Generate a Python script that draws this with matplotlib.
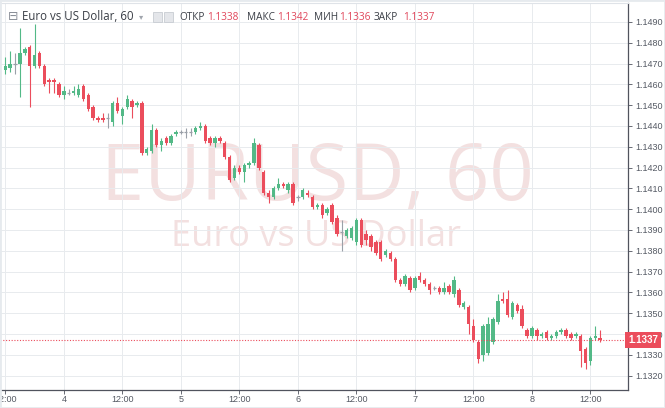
import numpy as np
import matplotlib
matplotlib.use("Agg")
import matplotlib.pyplot as plt
from matplotlib.patches import Rectangle

# hourly EURUSD candles, first one = day 3 12:00
opens = [1.1467, 1.1468, 1.1470, 1.1470, 1.1475, 1.1478, 1.1469, 1.1475, 1.1469, 1.1462,
         1.1462, 1.1460, 1.1455, 1.1456, 1.1456, 1.1455, 1.1459, 1.1455, 1.1449, 1.1444,
         1.1444, 1.1444, 1.1442, 1.1451, 1.1445, 1.1449, 1.1452, 1.1450, 1.1451, 1.1427,
         1.1428, 1.1438, 1.1431, 1.1434, 1.1432, 1.1436, 1.1437, 1.1437, 1.1437, 1.1437,
         1.1439, 1.1440, 1.1434, 1.1432, 1.1434, 1.1432, 1.1425, 1.1415, 1.1420, 1.1418,
         1.1421, 1.1422, 1.1431, 1.1418, 1.1408, 1.1406, 1.1410, 1.1412, 1.1409, 1.1412,
         1.1406, 1.1406, 1.1408, 1.1406, 1.1401, 1.1402, 1.1398, 1.1402, 1.1396, 1.1389,
         1.1387, 1.1386, 1.1384, 1.1395, 1.1388, 1.1387, 1.1384, 1.1384, 1.1378, 1.1379,
         1.1376, 1.1366, 1.1364, 1.1367, 1.1362, 1.1368, 1.1366, 1.1364, 1.1362, 1.1362,
         1.1360, 1.1363, 1.1359, 1.1361, 1.1353, 1.1353, 1.1344, 1.1336, 1.1330, 1.1331,
         1.1336, 1.1346, 1.1357, 1.1357, 1.1348, 1.1354, 1.1352, 1.1342, 1.1339, 1.1342,
         1.1339, 1.1341, 1.1338, 1.1339, 1.1341, 1.1342, 1.1340, 1.1339, 1.1339, 1.1333,
         1.1327, 1.1338, 1.1338]
highs = [1.1473, 1.1476, 1.1475, 1.1487, 1.1478, 1.1479, 1.1489, 1.1476, 1.1470, 1.1463,
         1.1463, 1.1461, 1.1459, 1.1458, 1.1459, 1.1460, 1.1460, 1.1456, 1.1450, 1.1445,
         1.1446, 1.1446, 1.1452, 1.1454, 1.1449, 1.1455, 1.1453, 1.1452, 1.1452, 1.1430,
         1.1441, 1.1439, 1.1434, 1.1435, 1.1436, 1.1438, 1.1438, 1.1439, 1.1439, 1.1440,
         1.1442, 1.1441, 1.1435, 1.1435, 1.1435, 1.1433, 1.1426, 1.1421, 1.1421, 1.1422,
         1.1423, 1.1434, 1.1432, 1.1419, 1.1409, 1.1411, 1.1415, 1.1413, 1.1413, 1.1413,
         1.1407, 1.1410, 1.1409, 1.1407, 1.1403, 1.1403, 1.1401, 1.1403, 1.1397, 1.1395,
         1.1391, 1.1392, 1.1396, 1.1396, 1.1390, 1.1388, 1.1385, 1.1385, 1.1381, 1.1380,
         1.1377, 1.1367, 1.1369, 1.1368, 1.1368, 1.1370, 1.1367, 1.1365, 1.1363, 1.1363,
         1.1365, 1.1364, 1.1368, 1.1362, 1.1356, 1.1354, 1.1347, 1.1337, 1.1345, 1.1348,
         1.1348, 1.1359, 1.1360, 1.1361, 1.1356, 1.1355, 1.1354, 1.1343, 1.1344, 1.1343,
         1.1341, 1.1342, 1.1340, 1.1342, 1.1343, 1.1343, 1.1341, 1.1341, 1.1340, 1.1334,
         1.1339, 1.1344, 1.1342]
lows = [1.1465, 1.1466, 1.1465, 1.1454, 1.1474, 1.1449, 1.1468, 1.1468, 1.1459, 1.1456,
        1.1456, 1.1454, 1.1453, 1.1455, 1.1455, 1.1454, 1.1452, 1.1447, 1.1443, 1.1442,
        1.1442, 1.1439, 1.1440, 1.1446, 1.1441, 1.1448, 1.1444, 1.1449, 1.1426, 1.1426,
        1.1427, 1.1430, 1.1428, 1.1431, 1.1431, 1.1435, 1.1436, 1.1434, 1.1435, 1.1436,
        1.1438, 1.1432, 1.1431, 1.1430, 1.1432, 1.1424, 1.1413, 1.1414, 1.1417, 1.1413,
        1.1420, 1.1421, 1.1419, 1.1407, 1.1403, 1.1405, 1.1409, 1.1410, 1.1408, 1.1402,
        1.1404, 1.1405, 1.1406, 1.1400, 1.1400, 1.1396, 1.1397, 1.1393, 1.1387, 1.1380,
        1.1386, 1.1385, 1.1383, 1.1382, 1.1383, 1.1380, 1.1378, 1.1375, 1.1377, 1.1375,
        1.1365, 1.1363, 1.1363, 1.1360, 1.1361, 1.1365, 1.1363, 1.1359, 1.1361, 1.1359,
        1.1359, 1.1359, 1.1358, 1.1353, 1.1352, 1.1340, 1.1336, 1.1326, 1.1327, 1.1330,
        1.1335, 1.1345, 1.1355, 1.1348, 1.1347, 1.1350, 1.1343, 1.1338, 1.1338, 1.1337,
        1.1338, 1.1337, 1.1337, 1.1338, 1.1340, 1.1338, 1.1337, 1.1338, 1.1324, 1.1323,
        1.1325, 1.1337, 1.1336]
closes = [1.1469, 1.1470, 1.1470, 1.1475, 1.1477, 1.1469, 1.1474, 1.1469, 1.1460, 1.1461,
          1.1461, 1.1455, 1.1457, 1.1456, 1.1457, 1.1458, 1.1453, 1.1448, 1.1444, 1.1443,
          1.1443, 1.1444, 1.1451, 1.1447, 1.1448, 1.1453, 1.1449, 1.1451, 1.1427, 1.1429,
          1.1438, 1.1431, 1.1433, 1.1432, 1.1435, 1.1437, 1.1437, 1.1437, 1.1437, 1.1439,
          1.1440, 1.1433, 1.1432, 1.1434, 1.1433, 1.1425, 1.1414, 1.1420, 1.1418, 1.1421,
          1.1422, 1.1432, 1.1420, 1.1408, 1.1406, 1.1410, 1.1412, 1.1411, 1.1412, 1.1403,
          1.1406, 1.1409, 1.1407, 1.1401, 1.1402, 1.1397, 1.1400, 1.1394, 1.1388, 1.1389,
          1.1390, 1.1391, 1.1395, 1.1383, 1.1385, 1.1382, 1.1379, 1.1376, 1.1380, 1.1376,
          1.1366, 1.1364, 1.1368, 1.1361, 1.1367, 1.1366, 1.1364, 1.1361, 1.1362, 1.1360,
          1.1362, 1.1360, 1.1366, 1.1354, 1.1355, 1.1345, 1.1337, 1.1328, 1.1344, 1.1345,
          1.1347, 1.1356, 1.1356, 1.1349, 1.1355, 1.1351, 1.1344, 1.1339, 1.1343, 1.1339,
          1.1340, 1.1338, 1.1339, 1.1341, 1.1342, 1.1339, 1.1338, 1.1340, 1.1332, 1.1326,
          1.1338, 1.1339, 1.1337]

x_tick_pos = [0, 12, 24, 36, 48, 60, 72, 84, 96, 108, 120]
x_tick_labels = ['12:00', '4', '12:00', '5', '12:00', '6', '12:00', '7', '12:00', '8', '12:00']
y_ticks = [1.1320, 1.1330, 1.1340, 1.1350, 1.1360, 1.1370, 1.1380, 1.1390, 1.1400,
           1.1410, 1.1420, 1.1430, 1.1440, 1.1450, 1.1460, 1.1470, 1.1480, 1.1490]
last_price = 1.1337
header = [('ОТКР', 1.1338), ('МАКС', 1.1342), ('МИН', 1.1336), ('ЗАКР', 1.1337)]

UP = '#53b987'
DOWN = '#eb4d5c'
FLAT = '#9aa0a8'

plt.rcParams['font.family'] = ['Open Sans', 'DejaVu Sans']

o = np.array(opens)
h = np.array(highs)
l = np.array(lows)
c = np.array(closes)
idx = np.arange(len(o))
colors = np.where(c > o, UP, np.where(c < o, DOWN, FLAT))

fig = plt.figure(figsize=(6.65, 4.08), dpi=100)
ax = fig.add_axes([0.0, 18 / 408, 628 / 665, 387 / 408])

# watermark
ax.text(0.506, 0.545, 'EURUSD, 60', transform=ax.transAxes, ha='center', va='center',
        fontsize=56, color='#f3e0e0', zorder=0)
ax.text(0.503, 0.395, 'Euro vs US Dollar', transform=ax.transAxes, ha='center', va='center',
        fontsize=26, color='#f3e0e0', zorder=0)

ax.vlines(idx, l, h, colors=colors, linewidth=0.8, zorder=2)
body_lo = np.minimum(o, c)
body_h = np.abs(c - o)
ax.bar(idx, body_h, bottom=body_lo, width=0.7, color=colors, linewidth=0, zorder=3)
flat = body_h == 0
ax.hlines(o[flat], idx[flat] - 0.35, idx[flat] + 0.35, colors=FLAT, linewidth=0.9, zorder=3)

ax.axhline(last_price, color=DOWN, linewidth=0.8, linestyle=(0, (1, 1.5)), zorder=4)

ax.set_xlim(-1.09, 127.7)
ax.set_ylim(1.13131, 1.14991)
ax.set_xticks(x_tick_pos)
ax.set_xticklabels(x_tick_labels)
ax.set_yticks(y_ticks)
ax.set_yticklabels(['%.4f' % v for v in y_ticks])
ax.yaxis.tick_right()
ax.tick_params(axis='both', labelsize=6.5, colors='#50535e', length=3, width=0.6, pad=2)
ax.tick_params(axis='x', pad=0.8)
for lab in ax.get_xticklabels() + ax.get_yticklabels():
    lab.set_fontfamily('Liberation Sans')
    lab.set_color('#555a64')
ax.grid(True, color='#e8ebee', linewidth=0.7, zorder=0)
ax.set_axisbelow(True)

for side in ['top', 'left']:
    ax.spines[side].set_color('#dfe3e8')
for side in ['bottom', 'right']:
    ax.spines[side].set_color('#50535e')
    ax.spines[side].set_linewidth(0.9)

# last price label on the axis
ax.text(1.0, last_price, '%.4f' % last_price, transform=ax.get_yaxis_transform(),
        ha='left', va='center', fontsize=7, color='white', fontweight='bold',
        family='Liberation Sans', clip_on=False, zorder=6,
        bbox=dict(boxstyle='square,pad=0.3', fc=DOWN, ec='none'))

# header line
hy = 1 - 17 / 408
fig.text(8 / 665, hy, '⊟', fontsize=9, color='#8a8f98', va='center', family='DejaVu Sans')
fig.text(22 / 665, hy, 'Euro vs US Dollar, 60', fontsize=8.3, color='#3a3e46', va='center')
fig.text(139 / 665, hy, '▾', fontsize=6, color='#a0a5ad', va='center', family='DejaVu Sans')
for x0 in [153, 164]:
    fig.patches.append(Rectangle((x0 / 665, hy - 5 / 408), 9 / 665, 10 / 408,
                                 transform=fig.transFigure, fc='#e4e6ea', ec='#c8ccd2', lw=0.6))
label_x = [179, 247, 314, 374]
value_x = [207, 277, 339, 403]
for (name, val), lx, vx in zip(header, label_x, value_x):
    fig.text(lx / 665, hy, name, fontsize=7.2, color='#3a3e46', va='center')
    fig.text(vx / 665, hy, '%.4f' % val, fontsize=7.2, color='#e0455a', va='center')

fig.patches.append(Rectangle((0, 0), 1, 1, transform=fig.transFigure, fill=False,
                             ec='#e6eaee', lw=2))

fig.savefig('out.png', dpi=100, facecolor='white')
